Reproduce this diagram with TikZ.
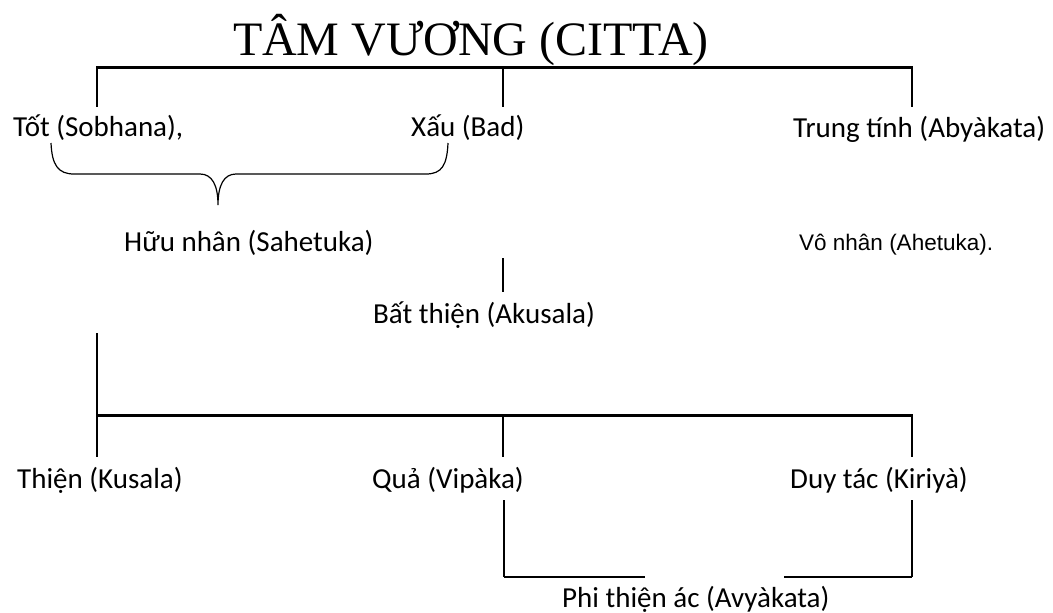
\documentclass[tikz,border=0pt]{standalone}
\usepackage{fontspec}
\setmainfont{Carlito}
\newfontfamily\titlefont{Liberation Serif}
\newfontfamily\arialfont{Liberation Sans}
\begin{document}
\begin{tikzpicture}[x=1pt,y=-1pt,
  lbl/.style={inner sep=0pt, font=\fontsize{29}{33}\selectfont, anchor=base west},
  bar/.style={line width=3pt},
  conn/.style={line width=1.2pt},
  base/.style={line width=2pt}]
\useasboundingbox (0,0) rectangle (1053,613);
% title
\node[inner sep=0pt, anchor=base, font=\titlefont\fontsize{48}{52}\selectfont] (title) at (471,55) {TÂM VƯƠNG (CITTA)};
% top bar
\coordinate (tl) at (96,67);
\coordinate (tl2) at (97,67);
\coordinate (tm) at (503,67);
\coordinate (tr) at (913,67);
\coordinate (tr2) at (912,67);
\draw[bar] (tl) -- (tr);
\coordinate (tlb) at (97,107);
\coordinate (tmb) at (503,107);
\coordinate (trb) at (912,107);
\draw[conn] (tl2) -- (tlb);
\draw[conn] (tm) -- (tmb);
\draw[conn] (tr2) -- (trb);
% first row labels
\node[lbl] (tot) at (13,136) {Tốt (Sobhana),};
\node[lbl] (xau) at (411,136) {Xấu (Bad)};
\node[lbl] (trung) at (793,137) {Trung tính (Abyàkata)};
% brace
\coordinate (bl) at (51,143);
\coordinate (br) at (448,143);
\coordinate (btip) at (218,205);
\draw[conn] (bl) .. controls (52,165) and (58,174) .. (74,174)
  -- (200,174) .. controls (212,174) and (218,185) .. (btip)
  .. controls (218,185) and (224,174) .. (236,174)
  -- (426,174) .. controls (442,174) and (447,165) .. (br);
% second row
\node[lbl] (huu) at (124,251) {Hữu nhân (Sahetuka)};
\node[inner sep=0pt, anchor=base west, font=\arialfont\fontsize{22.5}{26}\selectfont] (vo) at (799,250) {Vô nhân (Ahetuka).};
\coordinate (a1) at (503,258);
\coordinate (a2) at (503,292);
\draw[conn] (a1) -- (a2);
\node[lbl] (bat) at (373,323) {Bất thiện (Akusala)};
% lower bar
\coordinate (k1) at (97,333);
\coordinate (bl2) at (96,415);
\coordinate (bl3) at (97,415);
\coordinate (bm2) at (503,415);
\coordinate (br2) at (913,415);
\coordinate (br3) at (912,415);
\draw[conn] (k1) -- (bl3);
\draw[bar] (bl2) -- (br2);
\coordinate (blb) at (97,457);
\coordinate (bmb) at (503,457);
\coordinate (brb) at (912,457);
\draw[conn] (bl3) -- (blb);
\draw[conn] (bm2) -- (bmb);
\draw[conn] (br3) -- (brb);
% third row labels
\node[lbl] (thien) at (17,488) {Thiện (Kusala)};
\node[lbl] (qua) at (372,488) {Quả (Vipàka)};
\node[lbl] (duy) at (790,488) {Duy tác (Kiriyà)};
% bottom bracket
\coordinate (q1) at (504,500);
\coordinate (q2) at (504,577);
\coordinate (q3) at (645,577);
\coordinate (d1) at (912,500);
\coordinate (d2) at (912,577);
\coordinate (d3) at (784,577);
\draw[conn] (q1) -- (q2);
\draw[base] (q2) -- (q3);
\draw[conn] (d1) -- (d2);
\draw[base] (d3) -- (d2);
\node[lbl] (phi) at (562,607) {Phi thiện ác (Avyàkata)};
\end{tikzpicture}
\end{document}
